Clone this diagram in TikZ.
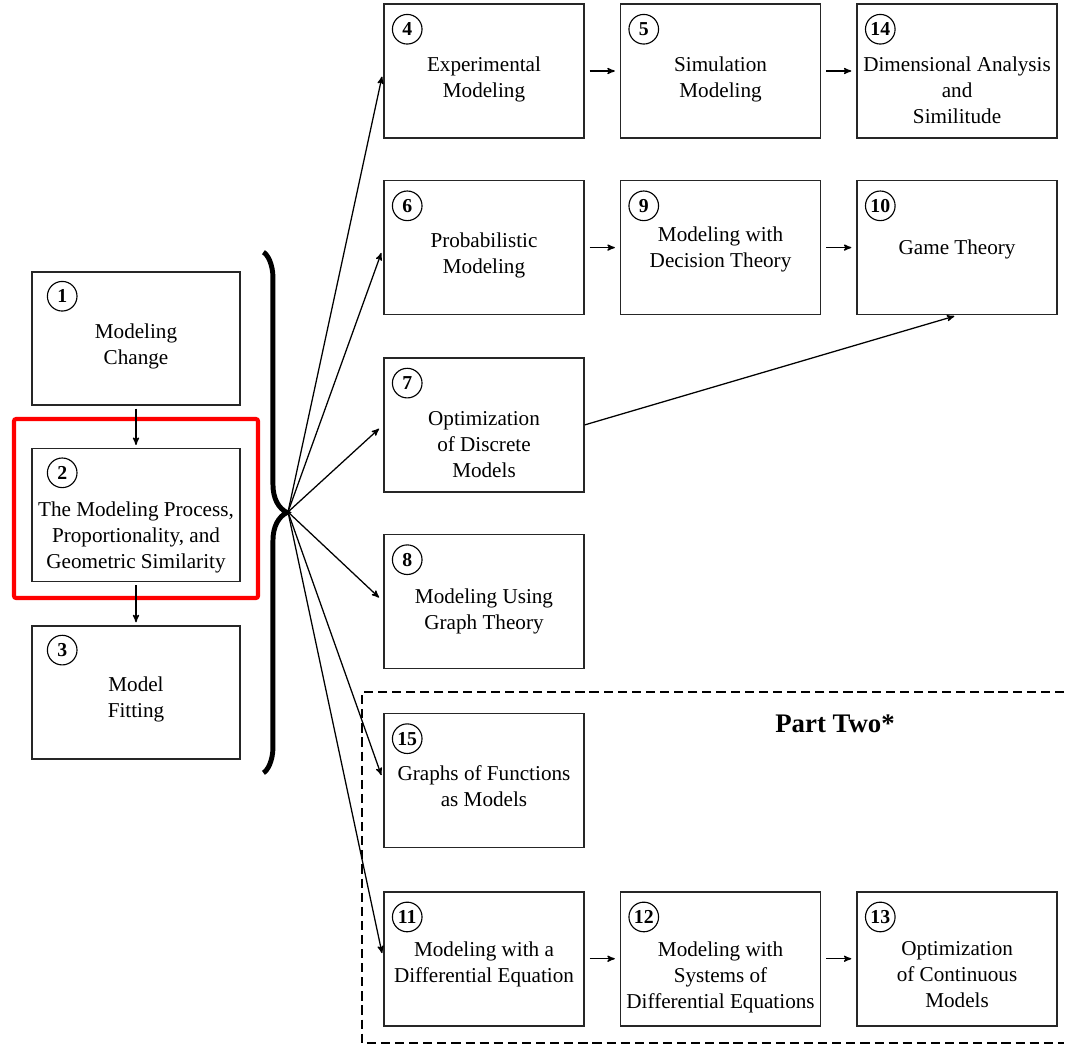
\documentclass[tikz,border=0pt]{standalone}
\usepackage{fontspec}
\setmainfont{Liberation Serif}
\usetikzlibrary{arrows,positioning,decorations.pathreplacing}

\begin{document}
\begin{tikzpicture}[x=0.709pt,y=-0.709pt,->,>=stealth',shorten >=3.5pt,shorten <=3.5pt,
  line width=0.9pt,
  box node/.style={rectangle,draw=black!85,line width=1.1pt,minimum width=141.8pt,minimum height=95pt,inner sep=0pt},
  left node/.style={box node,minimum width=147.5pt,minimum height=94.3pt},
  num node/.style={circle,draw,line width=0.8pt,minimum size=21pt,inner sep=0pt,font=\bfseries\fontsize{14}{14}\selectfont},
  title node/.style={anchor=north,align=center,inner sep=0pt,font=\fontsize{15}{18.5}\selectfont}]

 \useasboundingbox (0,0) rectangle (1069,1045);

 % left column
 \node[left node] (1) at (136,338.5) {};
 \node[left node] (2) [below=29.8pt of 1] {};
 \node[left node] (3) [below=30.3pt of 2] {};

 % right part
 \node[box node] (4) at (484,71) {};
 \node[box node] (5) [right=24.8pt of 4] {};
 \node[box node] (14) [right=24.8pt of 5] {};
 \node[box node] (6) [below=29.1pt of 4] {};
 \node[box node] (9) [right=24.8pt of 6] {};
 \node[box node] (10) [right=24.8pt of 9] {};
 \node[box node] (7) [below=29.6pt of 6] {};
 \node[box node] (8) [below=29.1pt of 7] {};
 \node[box node] (15) [below=30.8pt of 8] {};
 \node[box node] (11) [below=30.3pt of 15] {};
 \node[box node] (12) [right=24.8pt of 11] {};
 \node[box node] (13) [right=24.8pt of 12] {};

 % circled numbers
 \node[num node] (c1) at ([shift={(31,25)}]1.north west) {1};
 \node[num node] (c2) at ([shift={(31,25)}]2.north west) {2};
 \node[num node] (c3) at ([shift={(31,25)}]3.north west) {3};
 \node[num node] (c4) at ([shift={(24,26)}]4.north west) {4};
 \node[num node] (c5) at ([shift={(24,26)}]5.north west) {5};
 \node[num node] (c14) at ([shift={(24,26)}]14.north west) {14};
 \node[num node] (c6) at ([shift={(24,26)}]6.north west) {6};
 \node[num node] (c9) at ([shift={(24,26)}]9.north west) {9};
 \node[num node] (c10) at ([shift={(24,26)}]10.north west) {10};
 \node[num node] (c7) at ([shift={(24,26)}]7.north west) {7};
 \node[num node] (c8) at ([shift={(24,26)}]8.north west) {8};
 \node[num node] (c15) at ([shift={(24,26)}]15.north west) {15};
 \node[num node] (c11) at ([shift={(24,26)}]11.north west) {11};
 \node[num node] (c12) at ([shift={(24,26)}]12.north west) {12};
 \node[num node] (c13) at ([shift={(24,26)}]13.north west) {13};

 % titles
 \node[title node] (t1) at ([shift={(0,52)}]1.north) {Modeling\\Change};
 \node[title node] (t2) at ([shift={(0,53)}]2.north) {The Modeling Process,\\Proportionality, and\\Geometric Similarity};
 \node[title node] (t3) at ([shift={(0,51)}]3.north) {Model\\Fitting};
 \node[title node] (t4) at ([shift={(0,53)}]4.north) {Experimental\\Modeling};
 \node[title node] (t5) at ([shift={(0,53)}]5.north) {Simulation\\Modeling};
 \node[title node] (t14) at ([shift={(0,53)}]14.north) {Dimensional Analysis\\and\\Similitude};
 \node[title node] (t6) at ([shift={(0,52)}]6.north) {Probabilistic\\Modeling};
 \node[title node] (t9) at ([shift={(0,46)}]9.north) {Modeling with\\Decision Theory};
 \node[title node] (t10) at ([shift={(0,59)}]10.north) {Game Theory};
 \node[title node] (t7) at ([shift={(0,54)}]7.north) {Optimization\\of Discrete\\Models};
 \node[title node] (t8) at ([shift={(0,54)}]8.north) {Modeling Using\\Graph Theory};
 \node[title node] (t15) at ([shift={(0,52)}]15.north) {Graphs of Functions\\as Models};
 \node[title node] (t11) at ([shift={(0,50)}]11.north) {Modeling with a\\Differential Equation};
 \node[title node] (t12) at ([shift={(0,50)}]12.north) {Modeling with\\Systems of\\Differential Equations};
 \node[title node] (t13) at ([shift={(0,50)}]13.north) {Optimization\\of Continuous\\Models};

 % brace and part two frame
 \draw[-,decorate,decoration={brace,amplitude=19.8pt},line width=3.5pt] (259,250) -- (259,775);
 \coordinate (tip) at (288,512);
 \draw[-,dashed,dash pattern=on 6.5pt off 3.5pt,line width=0.9pt]
    (1069,692) -- (362,692) -- (362,1043) -- (1069,1043);
 \node[font=\bfseries\fontsize{19}{22}\selectfont] (part) at (835,724) {Part Two*};
 \draw[-,red,line width=2.9pt,rounded corners=1.5pt] (14,419) rectangle (258,598);

 \path
    (1)  edge [shorten >=2pt,shorten <=2pt] (2)
    (2)  edge [shorten >=2pt,shorten <=2pt] (3)
    (4)  edge (5)
    (5)  edge (14)
    (6)  edge (9)
    (9)  edge (10)
    (11) edge (12)
    (12) edge (13)
    (7.east) edge [shorten <=0pt,shorten >=2pt] (10.south)
    (tip) edge [shorten <=0pt,shorten >=4pt] (4.west)
    (tip) edge [shorten <=0pt,shorten >=4pt] (6.west)
    (tip) edge [shorten <=0pt,shorten >=4pt] (7.west)
    (tip) edge [shorten <=0pt,shorten >=4pt] (8.west)
    (tip) edge [shorten <=0pt,shorten >=4pt] (15.west)
    (tip) edge [shorten <=0pt,shorten >=4pt] (11.west);

\end{tikzpicture}
\end{document}
